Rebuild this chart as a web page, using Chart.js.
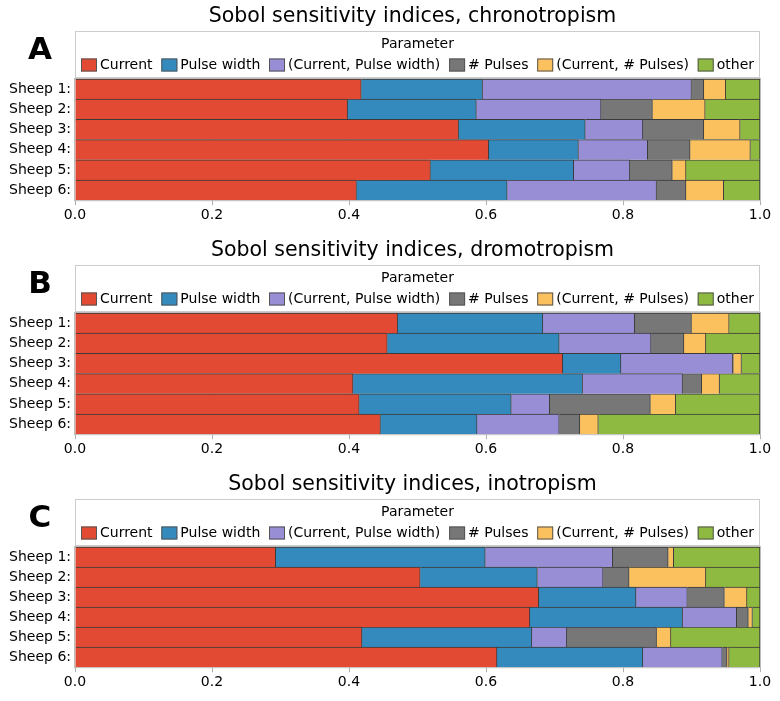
<!DOCTYPE html>
<html>
<head>
<meta charset="utf-8">
<script src="https://cdn.jsdelivr.net/npm/chart.js@4.4.0/dist/chart.umd.min.js"></script>
<style>
  body { margin: 0; background: #fff; }
  canvas { display: block; }
</style>
</head>
<body>
<canvas id="chartA" width="780" height="234"></canvas>
<canvas id="chartB" width="780" height="234"></canvas>
<canvas id="chartC" width="780" height="233"></canvas>
<script>
// rows, top to bottom
const sheepLabels = ['Sheep 1:', 'Sheep 2:', 'Sheep 3:', 'Sheep 4:', 'Sheep 5:', 'Sheep 6:'];
const paramNames = ['Current', 'Pulse width', '(Current, Pulse width)', '# Pulses', '(Current, # Pulses)', 'other'];
const xTicks = [0, 0.2, 0.4, 0.6, 0.8, 1.0];

// A - chronotropism
const chronoCurrent    = [0.418, 0.398, 0.560, 0.604, 0.519, 0.411];
const chronoPulseWidth = [0.177, 0.188, 0.185, 0.131, 0.209, 0.220];
const chronoCurPW      = [0.305, 0.182, 0.084, 0.101, 0.082, 0.218];
const chronoPulses     = [0.018, 0.075, 0.089, 0.062, 0.062, 0.043];
const chronoCurPulses  = [0.032, 0.077, 0.053, 0.088, 0.020, 0.055];
const chronoOther      = [0.050, 0.080, 0.029, 0.014, 0.108, 0.053];

// B - dromotropism
const dromoCurrent    = [0.471, 0.456, 0.712, 0.406, 0.415, 0.446];
const dromoPulseWidth = [0.212, 0.251, 0.085, 0.335, 0.222, 0.141];
const dromoCurPW      = [0.134, 0.134, 0.163, 0.146, 0.056, 0.120];
const dromoPulses     = [0.083, 0.048, 0.001, 0.028, 0.147, 0.030];
const dromoCurPulses  = [0.055, 0.032, 0.012, 0.026, 0.037, 0.027];
const dromoOther      = [0.045, 0.079, 0.027, 0.059, 0.123, 0.236];

// C - inotropism
const inoCurrent    = [0.293, 0.504, 0.677, 0.664, 0.419, 0.616];
const inoPulseWidth = [0.306, 0.171, 0.142, 0.223, 0.248, 0.213];
const inoCurPW      = [0.186, 0.096, 0.075, 0.079, 0.051, 0.116];
const inoPulses     = [0.081, 0.038, 0.054, 0.017, 0.131, 0.007];
const inoCurPulses  = [0.008, 0.112, 0.033, 0.006, 0.021, 0.003];
const inoOther      = [0.126, 0.079, 0.019, 0.011, 0.130, 0.045];

const paramColors = ['#E24A33', '#348ABD', '#988ED5', '#777777', '#FBC15E', '#8EBA42'];
const edgeColor = '#3a3a3a';
const FONT = '"DejaVu Sans", sans-serif';

// title, frame, legend box and the panel letter
const panelDecor = {
    id: 'panelDecor',
    beforeDatasetsDraw(chart) {
        const { ctx, chartArea: a } = chart;
        ctx.save();
        ctx.strokeStyle = '#bcbcbc';
        ctx.lineWidth = 1;
        ctx.strokeRect(a.left - 0.5, a.top - 0.5, a.right - a.left + 1, a.bottom - a.top + 1);
        ctx.restore();
    },
    afterDraw(chart, args, opts) {
        const { ctx, chartArea: a } = chart;
        ctx.save();

        // title
        ctx.fillStyle = '#000';
        ctx.font = '20.5px ' + FONT;
        ctx.textAlign = 'center';
        ctx.textBaseline = 'middle';
        ctx.fillText(opts.title, (a.left + a.right) / 2 - 5, 17);

        // legend box
        const top = 31, bottom = a.top - 1;
        ctx.fillStyle = '#fff';
        ctx.fillRect(a.left, top, a.right - a.left, bottom - top);
        ctx.strokeStyle = '#cccccc';
        ctx.lineWidth = 1;
        ctx.strokeRect(a.left + 0.5, top + 0.5, a.right - a.left - 1, bottom - top - 1);

        ctx.fillStyle = '#000';
        ctx.font = '14px ' + FONT;
        ctx.fillText('Parameter', (a.left + a.right) / 2, top + 13);

        const boxW = 16, boxH = 13, gap = 3;
        const widths = paramNames.map(n => ctx.measureText(n).width);
        const total = widths.reduce((s, w) => s + w + boxW + gap, 0);
        const spacing = (a.right - a.left - 12 - total) / (paramNames.length - 1);
        let x = a.left + 6;
        const y = top + 34;
        ctx.textAlign = 'left';
        paramNames.forEach((n, i) => {
            ctx.fillStyle = paramColors[i];
            ctx.fillRect(x, y - boxH / 2, boxW, boxH);
            ctx.strokeStyle = '#555';
            ctx.strokeRect(x + 0.5, y - boxH / 2 + 0.5, boxW - 1, boxH - 1);
            ctx.fillStyle = '#000';
            ctx.fillText(n, x + boxW + gap, y);
            x += boxW + gap + widths[i] + spacing;
        });

        // panel letter
        ctx.font = 'bold 31px ' + FONT;
        ctx.textAlign = 'center';
        ctx.fillText(opts.letter, 40, 51);
        ctx.restore();
    }
};

const makeChart = (canvasId, letter, title, series) => {
    const ctx = document.getElementById(canvasId).getContext('2d');
    return new Chart(ctx, {
        type: 'bar',
        data: {
            labels: sheepLabels,
            datasets: series.map((values, i) => ({
                label: paramNames[i],
                data: values,
                backgroundColor: paramColors[i],
                borderColor: edgeColor,
                borderWidth: { top: 1, right: 1, bottom: 0, left: 0 },
                borderSkipped: false,
                barPercentage: 1,
                categoryPercentage: 1
            }))
        },
        options: {
            indexAxis: 'y',
            responsive: false,
            animation: false,
            devicePixelRatio: 1,
            layout: { padding: { left: 0, right: 20, top: 79, bottom: 8 } },
            plugins: {
                legend: { display: false },
                tooltip: { enabled: false },
                title: { display: false },
                panelDecor: { letter: letter, title: title }
            },
            scales: {
                x: {
                    stacked: true,
                    min: 0,
                    max: 1,
                    afterBuildTicks: scale => { scale.ticks = xTicks.map(v => ({ value: v })); },
                    ticks: {
                        color: '#000',
                        font: { family: FONT, size: 14 },
                        padding: 2,
                        maxRotation: 0,
                        callback: v => Number(v).toFixed(1)
                    },
                    grid: { color: '#e6e6e6', tickColor: '#b0b0b0', tickLength: 5 },
                    border: { display: false }
                },
                y: {
                    stacked: true,
                    afterFit: scale => { scale.width = 75; },
                    ticks: {
                        color: '#000',
                        font: { family: FONT, size: 14 },
                        padding: 4
                    },
                    grid: { display: false, drawTicks: false },
                    border: { display: false }
                }
            }
        },
        plugins: [panelDecor]
    });
};

makeChart('chartA', 'A', 'Sobol sensitivity indices, chronotropism',
    [chronoCurrent, chronoPulseWidth, chronoCurPW, chronoPulses, chronoCurPulses, chronoOther]);
makeChart('chartB', 'B', 'Sobol sensitivity indices, dromotropism',
    [dromoCurrent, dromoPulseWidth, dromoCurPW, dromoPulses, dromoCurPulses, dromoOther]);
makeChart('chartC', 'C', 'Sobol sensitivity indices, inotropism',
    [inoCurrent, inoPulseWidth, inoCurPW, inoPulses, inoCurPulses, inoOther]);
</script>
</body>
</html>
